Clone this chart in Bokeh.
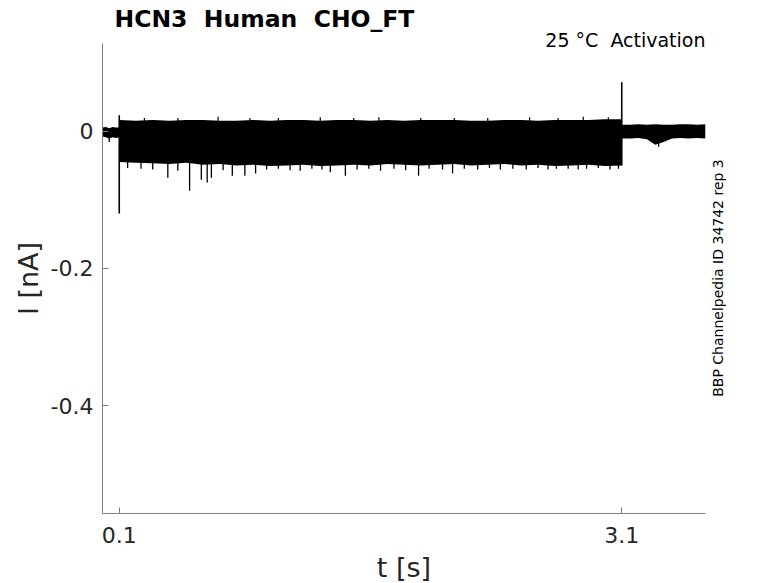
from bokeh.plotting import figure
from bokeh.models import FixedTicker, Range1d, LinearAxis, Title
from bokeh.embed import file_html
from bokeh.resources import INLINE
import math

# ---- text ----
title_text = "HCN3 \u00a0Human \u00a0CHO_FT"
cond_text = "25 \u00b0C \u00a0Activation"
side_text = "BBP Channelpedia ID 34742 rep 3"
x_label = "t [s]"
y_label = "I [nA]"

x_ticks = [0.1, 3.1]
x_tick_labels = ["0.1", "3.1"]
y_ticks = [-0.4, -0.2, 0.0]
y_tick_labels = ["-0.4", "-0.2", "0"]

# ---- data ----
pre_t = [0.0, 0.02, 0.04, 0.06, 0.08, 0.1]
pre_hi = [0.005, 0.006, 0.004, 0.006, 0.005, 0.005]
pre_lo = [-0.008, -0.009, -0.011, -0.009, -0.010, -0.009]

band_t = [0.1, 0.2, 0.3, 0.4, 0.5, 0.6, 0.7, 0.8, 0.9, 1.0,
          1.1, 1.2, 1.3, 1.4, 1.5, 1.6, 1.7, 1.8, 1.9, 2.0,
          2.1, 2.2, 2.3, 2.4, 2.5, 2.6, 2.7, 2.8, 2.9, 3.0, 3.1]
band_hi = [0.016, 0.015, 0.016, 0.015, 0.016, 0.016, 0.015, 0.015, 0.016, 0.015,
           0.016, 0.016, 0.015, 0.016, 0.016, 0.015, 0.016, 0.015, 0.016, 0.016,
           0.016, 0.015, 0.015, 0.016, 0.016, 0.015, 0.016, 0.016, 0.016, 0.017, 0.017]
band_lo = [-0.045, -0.046, -0.047, -0.048, -0.046, -0.049, -0.048, -0.050, -0.049, -0.051,
           -0.050, -0.049, -0.051, -0.050, -0.049, -0.050, -0.048, -0.049, -0.050, -0.049,
           -0.048, -0.050, -0.049, -0.048, -0.050, -0.049, -0.051, -0.050, -0.049, -0.051, -0.050]

post_t = [3.1, 3.15, 3.2, 3.25, 3.3, 3.35, 3.4, 3.45, 3.5, 3.55, 3.6]
post_hi = [0.009, 0.009, 0.010, 0.009, 0.010, 0.009, 0.009, 0.010, 0.010, 0.009, 0.010]
post_lo = [-0.011, -0.011, -0.010, -0.012, -0.020, -0.016, -0.011, -0.010, -0.011, -0.010, -0.011]

# downward noise spikes (time, minimum)
down_t = [0.04, 0.15, 0.23, 0.30, 0.39, 0.45, 0.52, 0.59, 0.625, 0.65,
          0.72, 0.775, 0.85, 0.914, 0.98, 1.05, 1.12, 1.18, 1.25, 1.31,
          1.36, 1.45, 1.52, 1.59, 1.66, 1.74, 1.81, 1.887, 1.95, 2.03,
          2.09, 2.16, 2.24, 2.31, 2.375, 2.45, 2.53, 2.60, 2.66, 2.71,
          2.78, 2.84, 2.89, 2.96, 3.03, 3.08, 3.32]
down_min = [-0.016, -0.054, -0.055, -0.056, -0.068, -0.058, -0.087, -0.071, -0.075, -0.068,
            -0.057, -0.065, -0.065, -0.062, -0.056, -0.055, -0.057, -0.058, -0.055, -0.056,
            -0.060, -0.065, -0.056, -0.055, -0.058, -0.055, -0.057, -0.065, -0.055, -0.056,
            -0.062, -0.055, -0.056, -0.054, -0.056, -0.055, -0.056, -0.054, -0.056, -0.055,
            -0.055, -0.056, -0.055, -0.054, -0.056, -0.055, -0.023]

# upward noise spikes (time, maximum)
up_t = [0.25, 0.45, 0.69, 0.88, 1.05, 1.3, 1.5, 1.65, 1.9, 2.1, 2.3, 2.55, 2.72, 2.87, 3.02]
up_max = [0.019, 0.019, 0.021, 0.019, 0.019, 0.020, 0.019, 0.020, 0.019, 0.019,
          0.019, 0.020, 0.019, 0.021, 0.020]

# capacitive transients
trans_t = [0.1, 3.1]
trans_lo = [-0.120, -0.050]
trans_hi = [0.023, 0.071]

FONT = "DejaVu Sans"

p = figure(width=762, height=585, output_backend="svg", toolbar_location=None,
           x_range=Range1d(0, 3.6), y_range=Range1d(-0.557, 0.1275),
           min_border_left=102, min_border_right=57, min_border_top=43, min_border_bottom=58)
p.background_fill_color = "white"
p.border_fill_color = "white"
p.outline_line_color = None
p.grid.visible = False

p.varea(x=pre_t, y1=pre_lo, y2=pre_hi, color="black")
p.varea(x=band_t, y1=band_lo, y2=band_hi, color="black")
p.varea(x=post_t, y1=post_lo, y2=post_hi, color="black")
p.segment(x0=down_t, y0=down_min, x1=down_t, y1=[-0.002] * len(down_t), color="black", line_width=1.3)
p.segment(x0=up_t, y0=up_max, x1=up_t, y1=[0.0] * len(up_t), color="black", line_width=1.2)
p.segment(x0=trans_t, y0=trans_lo, x1=trans_t, y1=trans_hi, color="black", line_width=1.6)

for ax in (p.xaxis[0], p.yaxis[0]):
    ax.axis_line_color = "#808080"
    ax.major_tick_line_color = "#808080"
    ax.major_tick_in = 6
    ax.major_tick_out = 0
    ax.minor_tick_line_color = None
    ax.major_label_text_font = FONT
    ax.major_label_text_font_size = "22px"
    ax.major_label_text_color = "#262626"
    ax.axis_label_text_font = FONT
    ax.axis_label_text_font_size = "27px"
    ax.axis_label_text_font_style = "normal"
    ax.axis_label_text_color = "#262626"

p.xaxis.ticker = FixedTicker(ticks=x_ticks)
p.xaxis.major_label_overrides = dict(zip(x_ticks, x_tick_labels))
p.xaxis.axis_label = x_label
p.xaxis.major_label_standoff = 13
p.xaxis.axis_label_standoff = 6

p.yaxis.ticker = FixedTicker(ticks=y_ticks)
p.yaxis.major_label_overrides = dict(zip(y_ticks, y_tick_labels))
p.yaxis.axis_label = y_label
p.yaxis.major_label_standoff = 9
p.yaxis.axis_label_standoff = 4

# vertical side note on the right, drawn as a tick-less axis label
side_axis = LinearAxis(ticker=FixedTicker(ticks=[-0.387]),
                       major_label_overrides={-0.387: side_text},
                       major_label_orientation=math.pi / 2,
                       major_label_text_font=FONT, major_label_text_font_size="14px",
                       major_label_text_color="black", major_label_standoff=7,
                       axis_line_color=None, major_tick_line_color=None,
                       minor_tick_line_color=None)
p.add_layout(side_axis, "right")

# condition text just above the frame, right aligned
p.add_layout(Title(text=cond_text, align="right", text_font=FONT, text_font_size="19px",
                   text_font_style="normal", text_color="black", standoff=-15, offset=0), "above")

p.title.text = title_text
p.title.align = "left"
p.title.offset = 12
p.title.standoff = 3
p.title.text_font = FONT
p.title.text_font_size = "23.5px"
p.title.text_font_style = "bold"
p.title.text_color = "black"

open("out.html", "w").write(file_html(p, INLINE))
